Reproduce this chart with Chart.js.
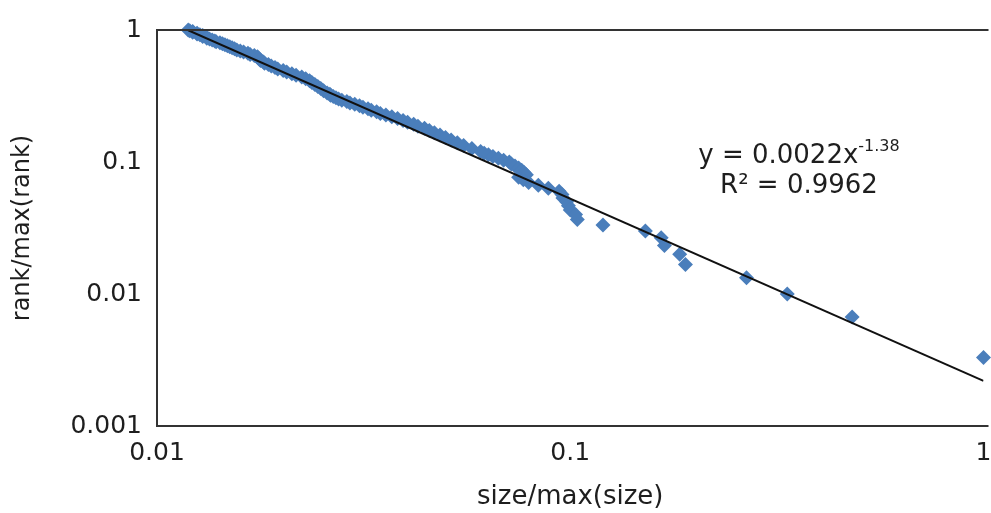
<!DOCTYPE html>
<html>
<head>
<meta charset="utf-8">
<title>rank vs size</title>
<script src="https://cdn.jsdelivr.net/npm/chart.js@4.4.1/dist/chart.umd.min.js"></script>
<style>
  html, body { margin: 0; padding: 0; background: #fff; }
  #wrap { width: 991px; height: 513px; }
</style>
</head>
<body>
<div id="wrap"><canvas id="chart" width="991" height="513"></canvas></div>
<script>
// size/max(size) of each item, largest rank first
const sizeRatio = [
  0.0119, 0.0120, 0.0122, 0.0122, 0.0125, 0.0125, 0.0127, 0.0129, 0.0129, 0.0132,
  0.0132, 0.0134, 0.0136, 0.0138, 0.0139, 0.0142, 0.0144, 0.0146, 0.0148, 0.0150,
  0.0152, 0.0154, 0.0156, 0.0159, 0.0162, 0.0166, 0.0168, 0.0172, 0.0175, 0.0176,
  0.0177, 0.0178, 0.0181, 0.0182, 0.0186, 0.0189, 0.0193, 0.0196, 0.0202, 0.0206,
  0.0212, 0.0217, 0.0224, 0.0229, 0.0234, 0.0237, 0.0241, 0.0245, 0.0249, 0.0253,
  0.0258,
  0.0262, 0.0263, 0.0267, 0.0271, 0.0275, 0.0280, 0.0288, 0.0293, 0.0301, 0.0309,
  0.0315, 0.0324, 0.0330, 0.0340, 0.0347, 0.0358, 0.0370, 0.0382, 0.0394, 0.0404,
  0.0418, 0.0428, 0.0444, 0.0456, 0.0469, 0.0484, 0.0499, 0.0515, 0.0533, 0.0552,
  0.0578, 0.0607,
  0.0619, 0.0634, 0.0650, 0.0670, 0.0690, 0.0712, 0.0720, 0.0735, 0.0750, 0.0763,
  0.0773, 0.0783, 0.0750, 0.0770, 0.0793, 0.0837, 0.0885, 0.0940, 0.0955, 0.0960,
  0.0980, 0.0990, 0.1000, 0.1030, 0.1040,
  0.120, 0.152, 0.166, 0.169, 0.184, 0.190, 0.267, 0.335, 0.481, 1.0
]

// rank/max(rank) for the same items
const rankRatio = [
  1, 0.9867, 0.9733, 0.96, 0.9467, 0.9333, 0.92, 0.9067, 0.8933, 0.88,
  0.8667, 0.8533, 0.84, 0.8267, 0.8133, 0.8, 0.7867, 0.7733, 0.76, 0.7467,
  0.7333, 0.72, 0.7067, 0.6933, 0.68, 0.6667, 0.6533, 0.64, 0.6267, 0.6133,
  0.6, 0.5867, 0.5733, 0.56, 0.5467, 0.5333, 0.52, 0.5067, 0.4933, 0.48,
  0.4667, 0.4533, 0.44, 0.4267, 0.4133, 0.4, 0.3867, 0.3733, 0.36, 0.3467,
  0.3333,
  0.3267, 0.32, 0.3133, 0.3067, 0.3, 0.2933, 0.2867, 0.28, 0.2733, 0.2667,
  0.26, 0.2533, 0.2467, 0.24, 0.2333, 0.2267, 0.22, 0.2133, 0.2067, 0.2,
  0.1933, 0.1867, 0.18, 0.1733, 0.1667, 0.16, 0.1533, 0.1467, 0.14, 0.1333,
  0.1267, 0.12,
  0.1167, 0.1133, 0.11, 0.1067, 0.1033, 0.1, 0.0967, 0.0933, 0.09, 0.0867,
  0.0833, 0.08, 0.0767, 0.0733, 0.07, 0.0667, 0.0633, 0.06, 0.0567, 0.0533,
  0.05, 0.0467, 0.0433, 0.04, 0.0367,
  0.0333, 0.03, 0.0267, 0.0233, 0.02, 0.0167, 0.0133, 0.01, 0.0067, 0.0033
]

const xTicks = [0.01, 0.1, 1]
const yTicks = [0.001, 0.01, 0.1, 1]

// power-law fit y = a * x^b
const trendCoef = 0.0022
const trendExp = -1.38
const rSquared = "0.9962"

const fontFamily = "'DejaVu Sans', 'Liberation Sans', Arial, sans-serif"
const textColor = "#1e1e1e"

const points = sizeRatio.map((x, i) => ({ x: x, y: rankRatio[i] }))
const xMin = Math.min(...sizeRatio)
const xMax = Math.max(...sizeRatio)
const trendPoints = [xMin, xMax].map((x) => ({ x: x, y: trendCoef * Math.pow(x, trendExp) }))

// frame on left, top and bottom, plus the fit equation
const framePlugin = {
  id: "frame",
  afterDraw(chart) {
    const { ctx, chartArea } = chart
    ctx.save()
    ctx.strokeStyle = "#333333"
    ctx.lineWidth = 2
    ctx.beginPath()
    ctx.moveTo(chartArea.right + 5, chartArea.top)
    ctx.lineTo(chartArea.left, chartArea.top)
    ctx.lineTo(chartArea.left, chartArea.bottom)
    ctx.lineTo(chartArea.right + 5, chartArea.bottom)
    ctx.stroke()

    ctx.fillStyle = textColor
    ctx.textBaseline = "middle"
    ctx.font = "26px " + fontFamily
    const main = "y = " + trendCoef + "x"
    const sup = String(trendExp)
    const mainW = ctx.measureText(main).width
    ctx.font = "16px " + fontFamily
    const supW = ctx.measureText(sup).width
    const cx = 799
    const startX = cx - (mainW + supW) / 2
    ctx.font = "26px " + fontFamily
    ctx.textAlign = "left"
    ctx.fillText(main, startX, 156)
    ctx.font = "16px " + fontFamily
    ctx.fillText(sup, startX + mainW, 147)
    ctx.font = "26px " + fontFamily
    ctx.textAlign = "center"
    ctx.fillText("R² = " + rSquared, cx, 186)
    ctx.restore()
  },
}

const ctx = document.getElementById("chart").getContext("2d")
new Chart(ctx, {
  type: "scatter",
  data: {
    datasets: [
      {
        type: "line",
        label: "fit",
        data: trendPoints,
        borderColor: "#111111",
        borderWidth: 2,
        pointRadius: 0,
        fill: false,
        order: 0,
      },
      {
        label: "rank",
        data: points,
        backgroundColor: "#4a7ebb",
        borderColor: "#4a7ebb",
        borderWidth: 0,
        pointStyle: "rectRot",
        pointRadius: 7.5,
        clip: false,
        order: 1,
      },
    ],
  },
  options: {
    responsive: false,
    animation: false,
    layout: { padding: { left: 0, top: 30, right: 0, bottom: 0 } },
    plugins: {
      legend: { display: false },
      tooltip: { enabled: false },
    },
    scales: {
      x: {
        type: "logarithmic",
        min: 0.01,
        max: 1,
        grid: { display: false, drawTicks: false },
        border: { display: false },
        afterBuildTicks: (scale) => {
          scale.ticks = xTicks.map((v) => ({ value: v }))
        },
        afterFit: (scale) => {
          scale.height = 87
          scale.paddingLeft = 0
          scale.paddingRight = 0
        },
        ticks: {
          color: textColor,
          font: { family: fontFamily, size: 25 },
          padding: 12,
          maxRotation: 0,
          callback: (v) => String(v),
        },
        title: {
          display: true,
          text: "size/max(size)",
          color: textColor,
          font: { family: fontFamily, size: 26 },
          padding: { top: 0, bottom: 0 },
        },
      },
      y: {
        type: "logarithmic",
        min: 0.001,
        max: 1,
        grid: { display: false, drawTicks: false },
        border: { display: false },
        afterBuildTicks: (scale) => {
          scale.ticks = yTicks.map((v) => ({ value: v }))
        },
        afterFit: (scale) => {
          scale.width = 157
        },
        ticks: {
          color: textColor,
          font: { family: fontFamily, size: 25 },
          padding: 15,
          callback: (v) => String(v),
        },
        title: {
          display: true,
          text: "rank/max(rank)",
          color: textColor,
          font: { family: fontFamily, size: 24 },
          padding: { top: 8, bottom: 0 },
        },
      },
    },
  },
  plugins: [framePlugin],
})
</script>
</body>
</html>
